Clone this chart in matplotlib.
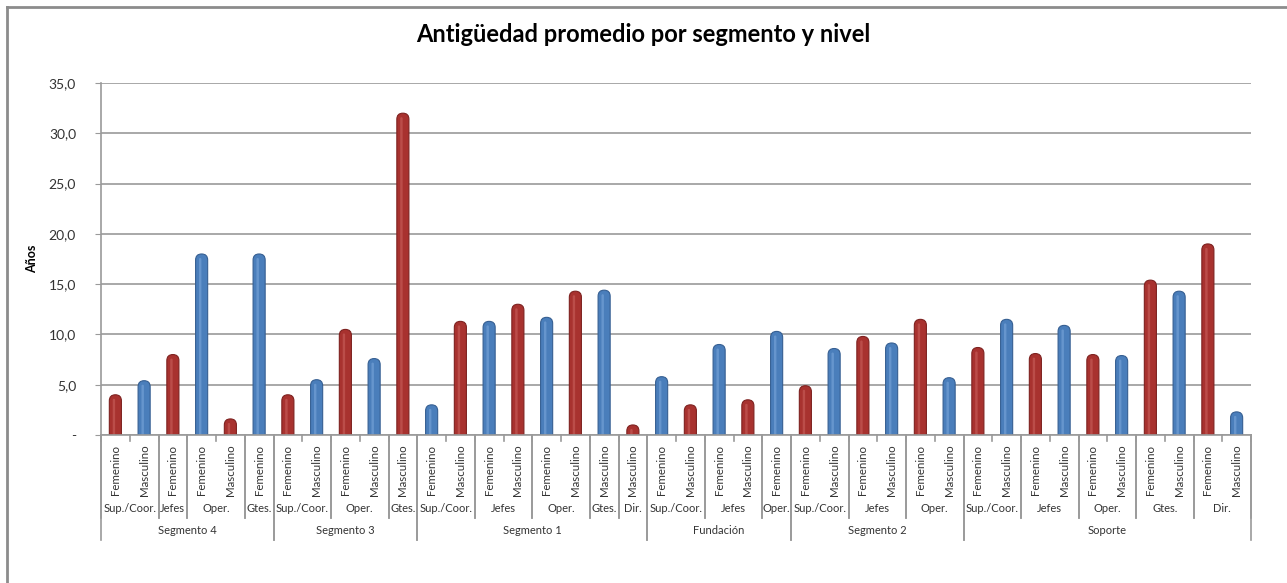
import matplotlib.pyplot as plt
from matplotlib.patches import FancyBboxPatch
from matplotlib.lines import Line2D
import matplotlib.transforms as mtransforms

# datos por barra (en el orden del eje)
segmentos = (["Segmento 4"] * 6 + ["Segmento 3"] * 5 + ["Segmento 1"] * 8 +
             ["Fundación"] * 5 + ["Segmento 2"] * 6 + ["Soporte"] * 10)
niveles = ["Sup./Coor.", "Sup./Coor.", "Jefes", "Oper.", "Oper.", "Gtes.",
           "Sup./Coor.", "Sup./Coor.", "Oper.", "Oper.", "Gtes.",
           "Sup./Coor.", "Sup./Coor.", "Jefes", "Jefes", "Oper.", "Oper.", "Gtes.", "Dir.",
           "Sup./Coor.", "Sup./Coor.", "Jefes", "Jefes", "Oper.",
           "Sup./Coor.", "Sup./Coor.", "Jefes", "Jefes", "Oper.", "Oper.",
           "Sup./Coor.", "Sup./Coor.", "Jefes", "Jefes", "Oper.", "Oper.",
           "Gtes.", "Gtes.", "Dir.", "Dir."]
generos = ["Femenino", "Masculino", "Femenino", "Femenino", "Masculino", "Femenino",
           "Femenino", "Masculino", "Femenino", "Masculino", "Masculino",
           "Femenino", "Masculino", "Femenino", "Masculino", "Femenino", "Masculino",
           "Masculino", "Masculino",
           "Femenino", "Masculino", "Femenino", "Masculino", "Femenino",
           "Femenino", "Masculino", "Femenino", "Masculino", "Femenino", "Masculino",
           "Femenino", "Masculino", "Femenino", "Masculino", "Femenino", "Masculino",
           "Femenino", "Masculino", "Femenino", "Masculino"]
valores = [4.0, 5.4, 8.0, 18.0, 1.6, 18.0,
           4.0, 5.5, 10.5, 7.6, 32.0,
           3.0, 11.3, 11.3, 13.0, 11.7, 14.3, 14.4, 1.0,
           5.8, 3.0, 9.0, 3.5, 10.3,
           4.9, 8.6, 9.8, 9.15, 11.5, 5.7,
           8.7, 11.5, 8.1, 10.9, 8.0, 7.9, 15.4, 14.3, 19.0, 2.3]

rojo = "#A8322F"
azul = "#4A7EBB"

plt.rcParams['font.family'] = ['Lato', 'DejaVu Sans']

W, H = 1287, 583
fig = plt.figure(figsize=(W / 100, H / 100), dpi=100)
ax = fig.add_axes([101 / W, (H - 435) / H, 1150 / W, 352 / H])

n = len(valores)
ax.set_xlim(-0.5, n - 0.5)
ax.set_ylim(0, 35)

# barras tipo cilindro con tapa redondeada (la base queda bajo el eje y se recorta)
ancho = 0.42
asp = 28.75 / 10.05
for i, v in enumerate(valores):
    base = rojo if i % 2 == 0 else azul
    osc = "#7E2220" if i % 2 == 0 else "#365F92"
    luz = "#C9605C" if i % 2 == 0 else "#7AA6DA"
    p = FancyBboxPatch((i - ancho / 2, -1.0), ancho, v + 1.0,
                       boxstyle="round,pad=0,rounding_size=%f" % (ancho / 2),
                       mutation_aspect=asp, facecolor=base, edgecolor=osc,
                       linewidth=0.8, zorder=3)
    ax.add_patch(p)
    h = FancyBboxPatch((i - ancho * 0.22, -1.0), ancho * 0.2, v + 0.6,
                       boxstyle="round,pad=0,rounding_size=%f" % (ancho * 0.1),
                       mutation_aspect=asp, facecolor=luz, edgecolor="none",
                       alpha=0.6, zorder=4)
    ax.add_patch(h)

# ejes y rejilla
ax.set_yticks([0, 5, 10, 15, 20, 25, 30, 35])
ax.set_yticklabels(["-", "5,0", "10,0", "15,0", "20,0", "25,0", "30,0", "35,0"],
                   fontsize=10, color="#333333")
ax.yaxis.grid(True, color="#9a9a9a", linewidth=1.2, zorder=0)
ax.set_axisbelow(True)
ax.tick_params(axis="y", length=4, color="#9a9a9a", pad=14)
ax.set_xticks([])
for s in ["top", "right"]:
    ax.spines[s].set_visible(False)
ax.spines["left"].set_color("#9a9a9a")
ax.spines["left"].set_linewidth(1.2)
ax.spines["bottom"].set_color("#9a9a9a")
ax.spines["bottom"].set_linewidth(1.2)
ax.spines["bottom"].set_zorder(5)

ax.set_ylabel("Años", fontsize=9, fontweight="bold")
ax.yaxis.set_label_coords(-0.055, 0.5)

fig.text(0.5, 1 - 35 / H, "Antigüedad promedio por segmento y nivel",
         ha="center", va="center", fontsize=17, fontweight="bold")

# etiquetas multinivel
trans = mtransforms.blended_transform_factory(ax.transData, ax.transAxes)


def fy(px):
    return (435 - px) / 352


def linea(x, y0, y1):
    ax.add_line(Line2D([x, x], [fy(y0), fy(y1)], transform=trans,
                       color="#9a9a9a", linewidth=1.2, clip_on=False))


for i, g in enumerate(generos):
    ax.text(i, fy(470), g, transform=trans, rotation=90, ha="center",
            va="center", fontsize=8.3, color="#333333")
    linea(i - 0.5, 435, 441)
linea(n - 0.5, 435, 441)


def grupos(claves):
    res = []
    ini = 0
    for i in range(1, len(claves) + 1):
        if i == len(claves) or claves[i] != claves[ini]:
            res.append((ini, i - 1, claves[ini][-1]))
            ini = i
    return res


for a, b, nombre in grupos(list(zip(segmentos, niveles))):
    ax.text((a + b) / 2, fy(509), nombre, transform=trans, ha="center",
            va="center", fontsize=8, color="#333333")
    linea(a - 0.5, 435, 518)
    linea(b + 0.5, 435, 518)

for a, b, nombre in grupos([(s,) for s in segmentos]):
    ax.text((a + b) / 2, fy(531), nombre, transform=trans, ha="center",
            va="center", fontsize=8, color="#333333")
    linea(a - 0.5, 435, 540)
    linea(b + 0.5, 435, 540)

# marco del grafico
fig.add_artist(Line2D([7 / W, 1], [1 - 7 / H, 1 - 7 / H], color="#8c8c8c", linewidth=2))
fig.add_artist(Line2D([7 / W, 7 / W], [0, 1 - 7 / H], color="#8c8c8c", linewidth=2))

fig.savefig("out.png", dpi=100)
